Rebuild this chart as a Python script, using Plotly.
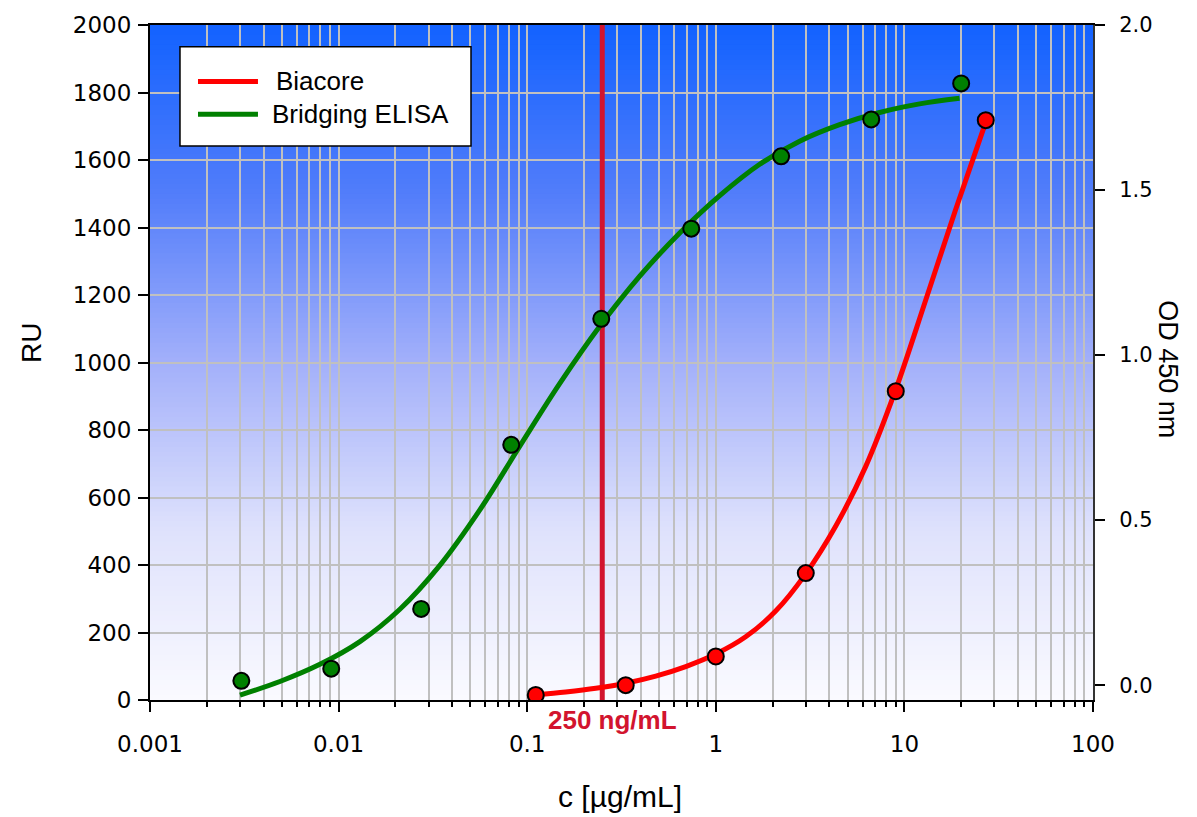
import plotly.graph_objects as go

# ---------------- data ----------------
# Biacore (RU, left axis)
biacore_conc = [0.111, 0.333, 1.0, 3.0, 9.0, 27.0]
biacore_ru = [15, 44, 129, 376, 915, 1718]
biacore_fit_conc = [0.1111, 0.1602, 0.2310, 0.3332, 0.4804, 0.6928, 0.9988, 1.440, 2.077, 2.995,
                    4.319, 6.229, 8.984, 12.95, 18.68, 26.94]
biacore_fit_ru = [14.7, 23.5, 34.6, 49.6, 70.7, 99.0, 136.0, 187.2, 263.5, 373.8,
                  515.0, 691.5, 918.8, 1183.5, 1452.6, 1710.6]

# Bridging ELISA (OD 450 nm, right axis)
elisa_conc = [0.00305, 0.00914, 0.0274, 0.0823, 0.247, 0.741, 2.22, 6.67, 20.0]
elisa_od = [0.013, 0.050, 0.231, 0.728, 1.110, 1.383, 1.602, 1.714, 1.823]
elisa_fit_conc = [0.003000, 0.004885, 0.007960, 0.01297, 0.02113, 0.03442, 0.05608, 0.09137, 0.1489,
                  0.2425, 0.3951, 0.6437, 1.049, 1.709, 2.784, 4.535, 7.388, 12.04, 19.61]
elisa_fit_od = [-0.030, 0.011, 0.063, 0.132, 0.230, 0.363, 0.531, 0.724, 0.914,
                1.087, 1.239, 1.370, 1.483, 1.578, 1.648, 1.698, 1.735, 1.761, 1.778]

cutoff_conc = 0.25
cutoff_label = "250 ng/mL"

x_tickvals = [0.001, 0.01, 0.1, 1, 10, 100]
x_ticktext = ["0.001", "0.01", "0.1", "1", "10", "100"]
y2_tickvals = [0.0, 0.5, 1.0, 1.5, 2.0]
y2_ticktext = ["0.0", "0.5", "1.0", "1.5", "2.0"]

# ---------------- styling ----------------
FONT = "Liberation Sans, Arial, sans-serif"
TICKFONT = "DejaVu Sans, Verdana, sans-serif"
RED = "#FF0000"
GREEN = "#008000"
CRIMSON = "#D2142E"
GRID = "#C0C0C0"

minor_vals = [m * 10.0 ** e for e in range(-3, 2) for m in range(2, 10)]

fig = go.Figure()

fig.add_trace(go.Scatter(x=[cutoff_conc, cutoff_conc], y=[0, 2000], mode="lines",
                         line=dict(color=CRIMSON, width=5), showlegend=False, hoverinfo="skip"))
fig.add_trace(go.Scatter(x=biacore_fit_conc, y=biacore_fit_ru, mode="lines", line_shape="spline",
                         line=dict(color=RED, width=5), showlegend=False))
fig.add_trace(go.Scatter(x=biacore_conc, y=biacore_ru, mode="markers",
                         marker=dict(color=RED, size=16, line=dict(color="black", width=2)),
                         showlegend=False))
fig.add_trace(go.Scatter(x=elisa_fit_conc, y=elisa_fit_od, mode="lines", line_shape="spline",
                         line=dict(color=GREEN, width=5), yaxis="y2", showlegend=False))
fig.add_trace(go.Scatter(x=elisa_conc, y=elisa_od, mode="markers", yaxis="y2",
                         marker=dict(color=GREEN, size=16, line=dict(color="black", width=2)),
                         showlegend=False))

# gradient background
stops = [(0.0, (18, 98, 255)), (0.25, (82, 125, 250)), (0.5, (163, 176, 250)),
         (0.75, (223, 226, 252)), (1.0, (250, 250, 255))]


def col(t):
    for (t0, c0), (t1, c1) in zip(stops[:-1], stops[1:]):
        if t0 <= t <= t1:
            f = (t - t0) / (t1 - t0)
            return "rgb(%d,%d,%d)" % tuple(round(a + (b - a) * f) for a, b in zip(c0, c1))
    return "rgb(250,250,255)"


shapes = []
N = 136
for i in range(N):
    y0 = i / N
    y1 = (i + 1) / N
    t = 1 - (y0 + y1) / 2
    shapes.append(dict(type="rect", xref="paper", yref="paper", x0=0, x1=1, y0=y0, y1=min(1, y1 + 0.002),
                       fillcolor=col(t), line=dict(width=0), layer="below"))

# manual legend
shapes.append(dict(type="rect", xref="paper", yref="paper", x0=0.0318, x1=0.3404, y0=0.8206, y1=0.9676,
                   fillcolor="white", line=dict(color="black", width=1.5), layer="above"))
shapes.append(dict(type="line", xref="paper", yref="paper", x0=0.0509, x1=0.1145, y0=0.9162, y1=0.9162,
                   line=dict(color=RED, width=5), layer="above"))
shapes.append(dict(type="line", xref="paper", yref="paper", x0=0.0509, x1=0.1145, y0=0.8676, y1=0.8676,
                   line=dict(color=GREEN, width=5), layer="above"))

annotations = [
    dict(text="Biacore", xref="paper", yref="paper", x=0.1310, y=0.9175, xanchor="left", yanchor="middle",
         showarrow=False, font=dict(size=26, color="black", family=FONT)),
    dict(text="Bridging ELISA", xref="paper", yref="paper", x=0.1275, y=0.8676, xanchor="left",
         yanchor="middle", showarrow=False, font=dict(size=26, color="black", family=FONT)),
    dict(text="<b>" + cutoff_label + "</b>", xref="x", yref="paper", x=-0.602, y=-0.0294, xshift=10,
         xanchor="center", yanchor="middle", showarrow=False, font=dict(size=26, color=CRIMSON, family=FONT)),
    dict(text="RU", xref="paper", yref="paper", x=-0.125, y=0.529, textangle=-90, showarrow=False,
         xanchor="center", yanchor="middle", font=dict(size=28, color="black", family=FONT)),
    dict(text="c [µg/mL]", xref="paper", yref="paper", x=0.498, y=-0.143, showarrow=False,
         xanchor="center", yanchor="middle", font=dict(size=30, color="black", family=FONT)),
    dict(text="OD 450 nm", xref="paper", yref="paper", x=1.0795, y=0.490, textangle=90, showarrow=False,
         xanchor="center", yanchor="middle", font=dict(size=27, color="black", family=FONT)),
]

fig.update_layout(
    width=1197, height=817,
    margin=dict(l=150, r=104, t=20, b=117),
    paper_bgcolor="white",
    plot_bgcolor="rgba(0,0,0,0)",
    font=dict(family=FONT, size=22, color="black"),
    shapes=shapes,
    annotations=annotations,
    showlegend=False,
    xaxis=dict(type="log", range=[-3, 2], tickvals=x_tickvals, ticktext=x_ticktext,
               ticks="outside", ticklen=10, tickwidth=2, tickcolor="black",
               showline=True, linecolor="black", linewidth=2, mirror=True,
               showgrid=True, gridcolor=GRID, gridwidth=2, zeroline=False,
               tickfont=dict(size=23, family=TICKFONT), ticklabelstandoff=12,
               minor=dict(tickvals=minor_vals, ticks="outside", ticklen=5, tickwidth=1.5,
                          tickcolor="black", showgrid=True, gridcolor=GRID, gridwidth=2)),
    yaxis=dict(range=[0, 2000], dtick=200, tick0=0, ticks="outside", ticklen=10, tickwidth=2,
               tickcolor="black", showline=True, linecolor="black", linewidth=2,
               showgrid=True, gridcolor=GRID, gridwidth=2, zeroline=False,
               tickfont=dict(size=23, family=TICKFONT), ticklabelstandoff=2),
    yaxis2=dict(overlaying="y", side="right", range=[-0.045, 2.0], tickvals=y2_tickvals,
                ticktext=y2_ticktext, ticks="outside", ticklen=10, tickwidth=1.5, tickcolor="black",
                showline=True, linecolor="#333333", linewidth=2, showgrid=False, zeroline=False,
                tickfont=dict(size=21, family=TICKFONT), ticklabelstandoff=10),
)

fig.write_html("out.html")
